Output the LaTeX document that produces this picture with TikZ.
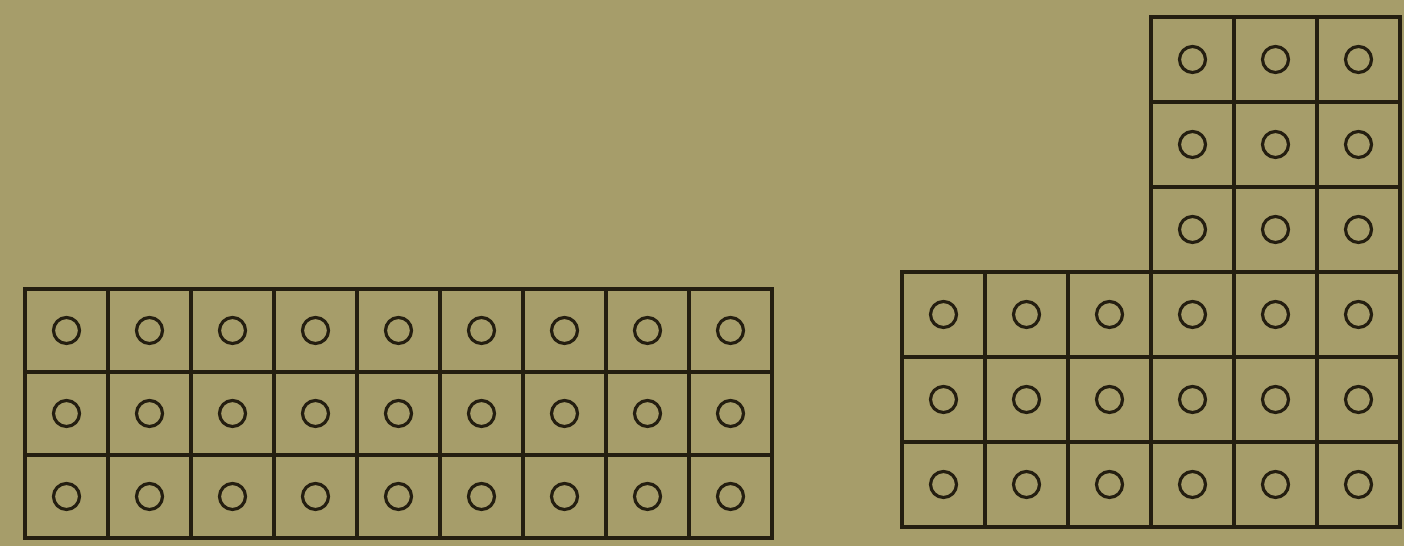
\documentclass[tikz,border=0pt]{standalone}
\usepackage{tikz}
\definecolor{paper}{RGB}{166,157,106}
\definecolor{ink}{RGB}{36,30,16}
\tikzset{
  cell/.style={draw=ink,line width=2pt,minimum width=1.66cm,minimum height=1.66cm,inner sep=0pt},
  tallcell/.style={cell,minimum height=1.7cm},
  hole/.style={circle,draw=ink,line width=1.8pt,minimum size=0.52cm,inner sep=0pt}
}

\begin{document}
\begin{tikzpicture}[x=0.02cm,y=0.02cm]
  \fill[paper] (0,0) rectangle (1404,546);
  \useasboundingbox (0,0) rectangle (1404,546);
  % left block
  \foreach \i in {0,...,8}
    \foreach \j in {0,...,2}{
      \node[cell] (L-\i-\j) at (66.5+83*\i,49.5+83*\j) {};
      \node[hole] (l-\i-\j) at (L-\i-\j) {};
    }
  % right block, bottom rows
  \foreach \i in {0,...,5}
    \foreach \j in {0,...,2}{
      \node[tallcell] (R-\i-\j) at (943.5+83*\i,61.5+85*\j) {};
      \node[hole] (r-\i-\j) at (R-\i-\j) {};
    }
  % right block, tower
  \foreach \i in {3,4,5}
    \foreach \j in {3,4,5}{
      \node[tallcell] (R-\i-\j) at (943.5+83*\i,61.5+85*\j) {};
      \node[hole] (r-\i-\j) at (R-\i-\j) {};
    }
\end{tikzpicture}
\end{document}
